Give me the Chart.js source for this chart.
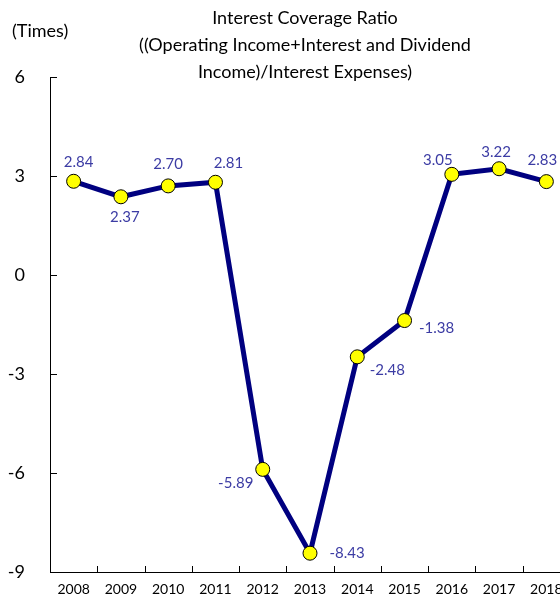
<!DOCTYPE html>
<html>
<head>
<meta charset="utf-8">
<script src="https://cdn.jsdelivr.net/npm/chart.js@4.4.0/dist/chart.umd.min.js"></script>
<style>
  html, body { margin: 0; padding: 0; overflow: hidden; background: #fff; }
  #wrap { width: 560px; height: 600px; position: relative; }
</style>
</head>
<body>
<div id="wrap"><canvas id="c"></canvas></div>
<script>
const years = ['2008','2009','2010','2011','2012','2013','2014','2015','2016','2017','2018'];
const ratio = [2.84, 2.37, 2.70, 2.81, -5.89, -8.43, -2.48, -1.38, 3.05, 3.22, 2.83];
const yTicks = [-9, -6, -3, 0, 3, 6];
const titleLines = ['Interest Coverage Ratio', '((Operating Income+Interest and Dividend', 'Income)/Interest Expenses)'];
const unitLabel = '(Times)';
const labelPlacement = [[5,-19],[4,20],[0,-22],[13,-19],[-27,14],[37,0],[30,13],[32,8],[-14,-14],[-3,-17],[-4,-21]];
const PLOT_RIGHT = 570; // plot area runs past the visible 560px edge, as in the reference

const FONT = 'Lato, "Open Sans", sans-serif';

const widen = {
  id: 'widen',
  afterLayout(chart) {
    const xs = chart.scales.x;
    chart.chartArea.right = PLOT_RIGHT;
    chart.chartArea.width = PLOT_RIGHT - chart.chartArea.left;
    xs.right = PLOT_RIGHT;
    xs.width = PLOT_RIGHT - xs.left;
    xs.configure();
  }
};

const decor = {
  id: 'decor',
  afterDraw(chart) {
    const ctx = chart.ctx;
    const ca = chart.chartArea;
    const xs = chart.scales.x, ys = chart.scales.y;
    ctx.save();
    ctx.strokeStyle = '#000';
    ctx.lineWidth = 1;
    ctx.beginPath();
    yTicks.forEach(v => {
      const y = Math.round(ys.getPixelForValue(v)) + 0.5;
      ctx.moveTo(ca.left, y); ctx.lineTo(ca.left + 7, y);
    });
    for (let i = 0; i <= years.length; i++) {
      const x = Math.round(xs.getPixelForValue(i - 0.5)) + 0.5;
      ctx.moveTo(x, ca.bottom); ctx.lineTo(x, ca.bottom - 6);
    }
    ctx.stroke();
    const meta = chart.getDatasetMeta(0);
    ctx.fillStyle = '#3c3ca4';
    ctx.font = '15px ' + FONT;
    ctx.textAlign = 'center';
    ctx.textBaseline = 'middle';
    meta.data.forEach((pt, i) => {
      const o = labelPlacement[i];
      ctx.fillText(ratio[i].toFixed(2), pt.x + o[0], pt.y + o[1]);
    });
    ctx.fillStyle = '#000';
    ctx.font = '18px ' + FONT;
    const cx = (ca.left + ca.right) / 2 - 5;
    titleLines.forEach((t, i) => ctx.fillText(t, cx, 18 + i * 27));
    ctx.textAlign = 'left';
    ctx.fillText(unitLabel, 12, 31);
    ctx.restore();
  }
};

new Chart(document.getElementById('c'), {
  type: 'line',
  data: {
    labels: years,
    datasets: [{
      data: ratio,
      borderColor: '#000080',
      borderWidth: 5,
      pointBackgroundColor: '#ffff00',
      pointBorderColor: '#000',
      pointBorderWidth: 1,
      pointRadius: 7,
      tension: 0,
      clip: false
    }]
  },
  options: {
    responsive: true,
    maintainAspectRatio: false,
    animation: false,
    events: [],
    layout: { padding: { top: 77, right: 0, left: 0, bottom: 0 } },
    plugins: { legend: { display: false }, title: { display: false }, tooltip: { enabled: false } },
    scales: {
      x: {
        type: 'category',
        offset: true,
        grid: { display: false, drawTicks: false },
        border: { display: true, color: '#000', width: 1 },
        ticks: { color: '#000', font: { family: FONT, size: 14 }, padding: 9, maxRotation: 0, autoSkip: false },
        afterFit(s) { s.height = 28; s.paddingLeft = 0; s.paddingRight = 0; s.paddingTop = 0; s.paddingBottom = 0; }
      },
      y: {
        min: -9, max: 6,
        afterBuildTicks(s) { s.ticks = yTicks.map(v => ({ value: v })); },
        grid: { display: false, drawTicks: false },
        border: { display: true, color: '#000', width: 1 },
        ticks: { color: '#000', font: { family: FONT, size: 18 }, padding: 25 },
        afterFit(s) { s.width = 50; s.paddingLeft = 0; s.paddingRight = 0; s.paddingTop = 0; s.paddingBottom = 0; }
      }
    }
  },
  plugins: [widen, decor]
});
</script>
</body>
</html>
